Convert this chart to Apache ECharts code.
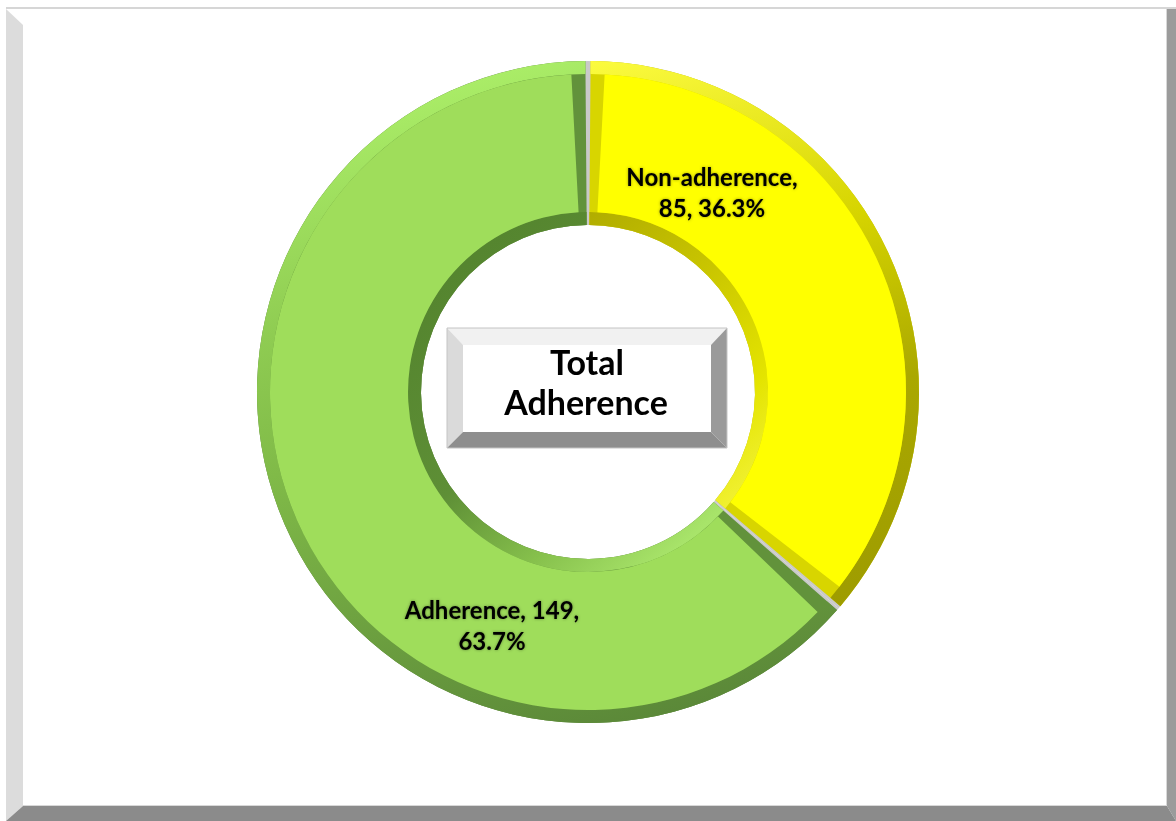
<!DOCTYPE html>
<html><head><meta charset="utf-8">
<script src="https://cdn.jsdelivr.net/npm/echarts@6/dist/echarts.min.js"></script>
<style>html,body{margin:0;padding:0;background:#fff}#c{width:1176px;height:821px}</style>
</head><body><div id="c"></div>
<script>
// ---- data ----
const categories = ['Non-adherence', 'Adherence'];
const counts = [85, 149];
const centerTitle = ['Total', 'Adherence'];

// ---- styles ----
const mainColors = ['#ffff00', '#9fdd5b'];
const edgeColors = ['#d8d500', '#62923b'];
const outerStops = [
  [['#ffff45', 0], ['#d6d400', 0.35], ['#aaa800', 0.6], ['#9a9800', 1]],
  [['#abee68', 0], ['#8fcc52', 0.3], ['#80ba48', 0.5], ['#5a8738', 1]]
];
const innerStops = [
  [['#a8a400', 0], ['#c8c400', 0.45], ['#e4e400', 0.8], ['#f0f030', 1]],
  [['#55852f', 0], ['#5e8f36', 0.45], ['#86c04c', 0.75], ['#a8e46a', 1]]
];
const labelPos = [[712, 194], [492, 627]];
const C = [588, 392];

function grad(stops, x, y, x2, y2) {
  return { type: 'linear', x, y, x2, y2, global: true,
    colorStops: stops.map(s => ({ color: s[0], offset: s[1] })) };
}
function items(colorFn) {
  return categories.map((name, i) => ({ name, value: counts[i], itemStyle: { color: colorFn(i) } }));
}
const base = {
  type: 'pie', center: C, startAngle: 90, clockwise: true, silent: true,
  percentPrecision: 1, avoidLabelOverlap: false,
  label: { show: false }, labelLine: { show: false },
  emphasis: { disabled: true }, itemStyle: { borderWidth: 0 }
};

const series = [
  Object.assign({}, base, { radius: [167, 331], z: 1, data: items(() => '#c9c9c9') }),
  Object.assign({}, base, { radius: [167, 331], z: 2, padAngle: 0.9, data: items(i => edgeColors[i]) }),
  Object.assign({}, base, { radius: [167, 180], z: 3, padAngle: 0.9,
    data: items(i => grad(innerStops[i], 470, 260, 706, 524)) }),
  Object.assign({}, base, { radius: [318, 331], z: 3, padAngle: 0.9,
    data: items(i => grad(outerStops[i], 500, 62, 676, 722)) }),
  Object.assign({}, base, { radius: [180, 318], z: 4, padAngle: 6,
    data: items(i => mainColors[i]),
    label: {
      show: true, position: 'inside', color: '#000', fontFamily: 'Lato', fontWeight: 'bold',
      fontSize: 24, lineHeight: 31, align: 'center',
      textShadowColor: 'rgba(0,0,0,0.4)', textShadowBlur: 3,
      formatter: p => p.dataIndex === 0 ? `${p.name},\n${p.value}, ${p.percent}%` : `${p.name}, ${p.value},\n${p.percent}%`
    },
    labelLayout: p => ({ x: labelPos[p.dataIndex][0], y: labelPos[p.dataIndex][1], align: 'center', verticalAlign: 'middle' })
  })
];

const graphic = [
  // frame
  { type: 'rect', shape: { x: 6, y: 7, width: 1170, height: 2 }, style: { fill: '#d6d6d6' }, silent: true },
  { type: 'polygon', shape: { points: [[6, 9], [23, 25], [23, 806], [6, 821]] }, style: { fill: '#dcdcdc' }, silent: true },
  { type: 'polygon', shape: { points: [[1167, 9], [1176, 9], [1176, 821], [1167, 806]] }, style: { fill: '#9b9b9b' }, silent: true },
  { type: 'polygon', shape: { points: [[23, 806], [1167, 806], [1176, 821], [6, 821]] }, style: { fill: '#8b8b8b' }, silent: true },
  { type: 'rect', shape: { x: 1166, y: 9, width: 1, height: 797 }, style: { fill: '#d8d8d8' }, silent: true },
  { type: 'rect', shape: { x: 23, y: 805, width: 1144, height: 1 }, style: { fill: '#d8d8d8' }, silent: true },
  // center box
  { type: 'polygon', shape: { points: [[447, 328], [727, 328], [711, 345], [463, 345]] }, style: { fill: '#f1f1f1' }, silent: true },
  { type: 'polygon', shape: { points: [[447, 328], [463, 345], [463, 432], [447, 448]] }, style: { fill: '#dadada' }, silent: true },
  { type: 'polygon', shape: { points: [[727, 328], [727, 448], [711, 432], [711, 345]] }, style: { fill: '#9a9a9a' }, silent: true },
  { type: 'polygon', shape: { points: [[447, 448], [463, 432], [711, 432], [727, 448]] }, style: { fill: '#8e8e8e' }, silent: true },
  { type: 'rect', shape: { x: 463, y: 345, width: 248, height: 87 }, style: { fill: '#ffffff' }, silent: true },
  { type: 'rect', shape: { x: 447, y: 328, width: 280, height: 120 }, style: { fill: 'none', stroke: '#c4c4c4', lineWidth: 1 }, silent: true },
  { type: 'text', x: 587, y: 364, silent: true,
    style: { text: centerTitle[0], fill: '#000', font: 'bold 34px Lato', align: 'center', verticalAlign: 'middle' } },
  { type: 'text', x: 586, y: 404, silent: true,
    style: { text: centerTitle[1], fill: '#000', font: 'bold 34px Lato', align: 'center', verticalAlign: 'middle' } }
];

const chart = echarts.init(document.getElementById('c'), null, { renderer: 'canvas' });
chart.setOption({ animation: false, backgroundColor: '#ffffff', series, graphic });
</script></body></html>
